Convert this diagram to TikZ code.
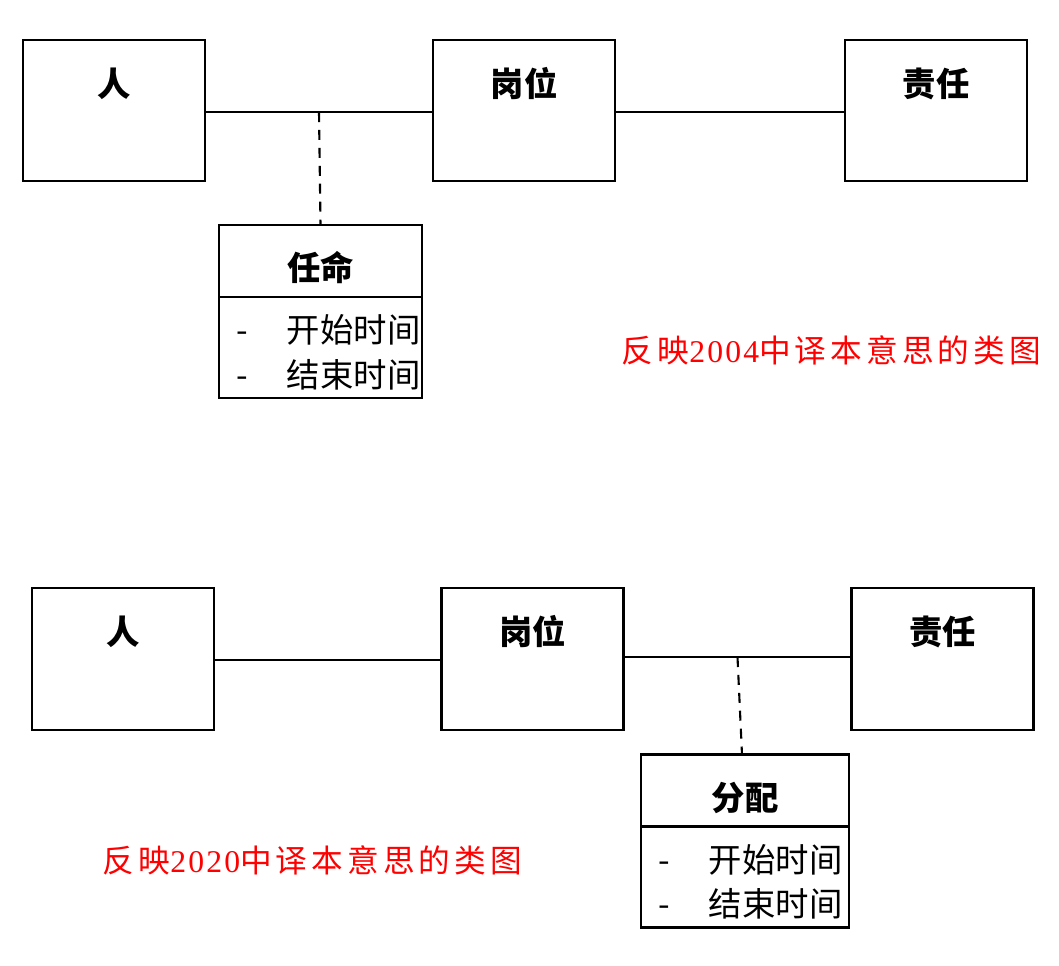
\documentclass[tikz,border=0pt]{standalone}
\usepackage{fontspec}
\setmainfont{Liberation Serif}
\newfontfamily\cjk{Noto Sans CJK SC}
\newfontfamily\cjknote{Noto Sans CJK SC}[LetterSpace=13]
\newfontfamily\numnote{Liberation Serif}[LetterSpace=7]
\usetikzlibrary{positioning,calc}

\begin{document}
\begin{tikzpicture}[x=0.02cm, y=-0.02cm,
        entity/.style={draw, line width=1.2pt, minimum width=3.64cm, minimum height=2.82cm, inner sep=0pt},
        title/.style={inner sep=0pt, font=\cjk\bfseries\fontsize{19}{22}\selectfont},
        classhead/.style={draw, line width=1.2pt, outer sep=0pt, minimum height=1.44cm, inner sep=0pt, text height=0.9cm, text depth=0.12cm, font=\cjk\bfseries\fontsize{19}{22}\selectfont},
        classattr/.style={draw, line width=1.2pt, outer sep=0pt, minimum height=2.02cm, inner xsep=0.34cm, inner ysep=0pt, text width=#1, align=left, font=\cjk\fontsize{19}{25.5}\selectfont},
        link/.style={line width=1.2pt},
        dashlink/.style={line width=1.2pt, dash pattern=on 5.7pt off 4.5pt},
        note/.style={inner sep=0pt, text=notered, font=\fontsize{18}{21}\selectfont}]
        \definecolor{notered}{RGB}{255,0,0}

        \useasboundingbox (0,0) rectangle (1059,965);

        % Top diagram: the 2004 reading
        \node[entity] (ren1) at (114,110.5) {};
        \node[entity] (gangwei1) at (524,110.5) {};
        \node[entity] (zeren1) at (936,110.5) {};
        \node[title] (ren1-t) at ([yshift=-0.9cm]ren1.north) {人};
        \node[title] (gangwei1-t) at ([yshift=-0.9cm]gangwei1.north) {岗位};
        \node[title] (zeren1-t) at ([yshift=-0.9cm]zeren1.north) {责任};

        \draw[link] ([yshift=-0.03cm]ren1.east) -- ([yshift=-0.03cm]gangwei1.west);
        \draw[link] ([yshift=-0.03cm]gangwei1.east) -- ([yshift=-0.03cm]zeren1.west);
        \coordinate (link1) at ($([yshift=-0.03cm]ren1.east)!0.5!([yshift=-0.03cm]gangwei1.west)$);

        % association class hangs off the first link
        \node[classhead, minimum width=4.06cm] (renming) at (320.5,261) {任命};
        \node[classattr=3.38cm, below=0pt of renming] (renming-attr) {\rule{0pt}{0.75cm}\makebox[1.02cm][l]{-}开始时间\\\makebox[1.02cm][l]{-}结束时间};
        \draw[dashlink] (link1) -- (renming.north);

        \node[note] (note1) at (831.5,350) {{\cjknote 反映}{\numnote 2004}{\cjknote 中译本意思的类图}};

        % Bottom diagram: the 2020 reading
        \node[entity, minimum height=2.84cm] (ren2) at (123,659) {};
        \node[entity, minimum height=2.84cm] (gangwei2) at (532.5,659) {};
        \node[entity, minimum height=2.84cm] (zeren2) at (942.5,659) {};
        \node[title] (ren2-t) at ([yshift=-0.9cm]ren2.north) {人};
        \node[title] (gangwei2-t) at ([yshift=-0.9cm]gangwei2.north) {岗位};
        \node[title] (zeren2-t) at ([yshift=-0.9cm]zeren2.north) {责任};

        \draw[link] ([yshift=-0.02cm]ren2.east) -- ([yshift=-0.02cm]gangwei2.west);
        \draw[link] ([yshift=0.04cm]gangwei2.east) -- ([yshift=0.04cm]zeren2.west);
        \coordinate (link2) at ($([yshift=0.04cm]gangwei2.east)!0.5!([yshift=0.04cm]zeren2.west)$);

        % association class hangs off the second link
        \node[classhead, minimum width=4.16cm] (fenpei) at (745,790.5) {分配};
        \node[classattr=3.48cm, below=0pt of fenpei] (fenpei-attr) {\rule{0pt}{0.75cm}\makebox[1.02cm][l]{-}开始时间\\\makebox[1.02cm][l]{-}结束时间};
        \draw[dashlink] (link2) -- ([xshift=-0.06cm]fenpei.north);

        \node[note] (note2) at (312.5,860) {{\cjknote 反映}{\numnote 2020}{\cjknote 中译本意思的类图}};
\end{tikzpicture}
\end{document}
